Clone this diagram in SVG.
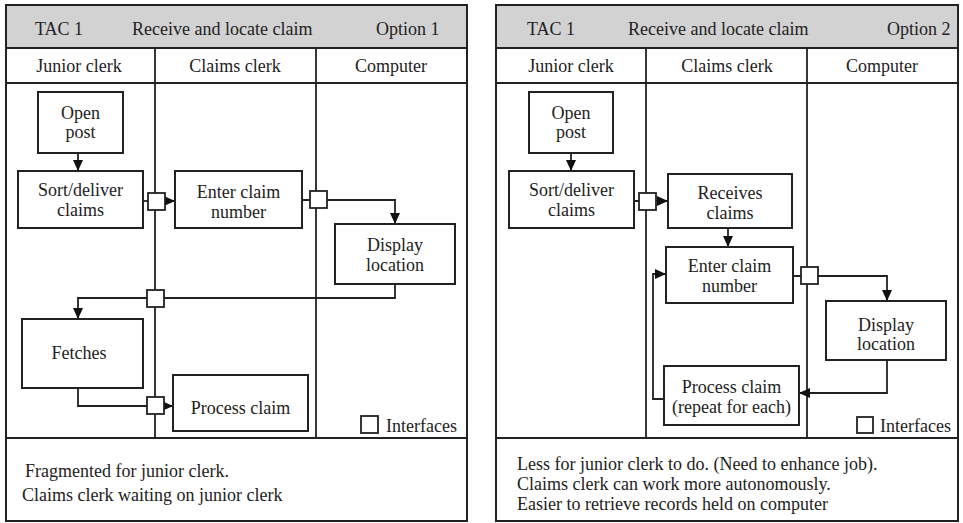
<svg xmlns="http://www.w3.org/2000/svg" width="963" height="523" viewBox="0 0 963 523">
<defs>
<style>
.frame{fill:none;stroke:#222;stroke-width:2}
.hdr{fill:#d2d2d2;stroke:#222;stroke-width:2}
.lane{stroke:#222;stroke-width:1.8;fill:none}
.node{fill:#fff;stroke:#222;stroke-width:2}
.ifc{fill:#fff;stroke:#222;stroke-width:1.8}
.con{fill:none;stroke:#222;stroke-width:1.8}
text{font-family:'Liberation Serif',serif;font-size:18px;fill:#222}
.c{text-anchor:middle}
</style>
<marker id="ah" markerUnits="userSpaceOnUse" markerWidth="12" markerHeight="12" viewBox="0 0 12 12" refX="11" refY="6" orient="auto">
<path d="M0,1 L11,6 L0,11 Z" fill="#111"/>
</marker>
</defs>
<rect width="963" height="523" fill="#fff"/>

<!-- LEFT PANEL -->
<g id="panel1">
<rect class="hdr" x="6" y="5" width="461" height="43"/>
<rect class="frame" x="6" y="5" width="461" height="516"/>
<line class="lane" x1="6" y1="83" x2="467" y2="83"/>
<line class="lane" x1="6" y1="438" x2="467" y2="438"/>
<line class="lane" x1="155" y1="48" x2="155" y2="438"/>
<line class="lane" x1="316" y1="48" x2="316" y2="438"/>
<text x="35" y="35">TAC 1</text>
<text x="132" y="35">Receive and locate claim</text>
<text x="376" y="35">Option 1</text>
<text class="c" x="79" y="72">Junior clerk</text>
<text class="c" x="235" y="72">Claims clerk</text>
<text class="c" x="391" y="72">Computer</text>
<text x="25" y="477">Fragmented for junior clerk.</text>
<text x="22" y="501">Claims clerk waiting on junior clerk</text>
</g>

<g id="connectors1">
<line class="con" x1="78" y1="153" x2="78" y2="171" marker-end="url(#ah)"/>
<line class="con" x1="143" y1="201" x2="175" y2="201" marker-end="url(#ah)"/>
<polyline class="con" points="302,200 395,200 395,224" marker-end="url(#ah)"/>
<polyline class="con" points="395,284 395,298 78,298 78,319" marker-end="url(#ah)"/>
<polyline class="con" points="78,388 78,406 173,406" marker-end="url(#ah)"/>
<rect class="ifc" x="148" y="193" width="17" height="17"/>
<rect class="ifc" x="310" y="191" width="17" height="17"/>
<rect class="ifc" x="147" y="290" width="17" height="17"/>
<rect class="ifc" x="147" y="397" width="17" height="17"/>
</g>

<g id="open-post-1"><rect class="node" x="38" y="92" width="85" height="61"/><text class="c" x="80.5" y="119">Open</text><text class="c" x="80.5" y="138">post</text></g>
<g id="sort-deliver-1"><rect class="node" x="18" y="171" width="125" height="57"/><text class="c" x="80.5" y="196">Sort/deliver</text><text class="c" x="80.5" y="216">claims</text></g>
<g id="enter-claim-1"><rect class="node" x="175" y="171" width="127" height="57"/><text class="c" x="238.5" y="198">Enter claim</text><text class="c" x="238.5" y="218">number</text></g>
<g id="display-location-1"><rect class="node" x="335" y="224" width="120" height="60"/><text class="c" x="395" y="251">Display</text><text class="c" x="395" y="271">location</text></g>
<g id="fetches-1"><rect class="node" x="22" y="319" width="121" height="69"/><text class="c" x="79" y="359">Fetches</text></g>
<g id="process-claim-1"><rect class="node" x="173" y="375" width="135" height="56"/><text class="c" x="240.5" y="414">Process claim</text></g>
<g id="legend-1"><rect class="ifc" x="361" y="416" width="17" height="17"/><text x="386" y="432">Interfaces</text></g>

<!-- RIGHT PANEL -->
<g id="panel2">
<rect class="hdr" x="496" y="5" width="462" height="43"/>
<rect class="frame" x="496" y="5" width="462" height="516"/>
<line class="lane" x1="496" y1="83" x2="958" y2="83"/>
<line class="lane" x1="496" y1="438" x2="958" y2="438"/>
<line class="lane" x1="646" y1="48" x2="646" y2="438"/>
<line class="lane" x1="807" y1="48" x2="807" y2="438"/>
<text x="527" y="35">TAC 1</text>
<text x="628" y="35">Receive and locate claim</text>
<text x="887" y="35">Option 2</text>
<text class="c" x="571" y="72">Junior clerk</text>
<text class="c" x="727" y="72">Claims clerk</text>
<text class="c" x="882" y="72">Computer</text>
<text x="517" y="470">Less for junior clerk to do. (Need to enhance job).</text>
<text x="517" y="490">Claims clerk can work more autonomously.</text>
<text x="517" y="510">Easier to retrieve records held on computer</text>
</g>

<g id="connectors2">
<line class="con" x1="571" y1="153" x2="571" y2="171" marker-end="url(#ah)"/>
<line class="con" x1="634" y1="201" x2="668" y2="201" marker-end="url(#ah)"/>
<line class="con" x1="728" y1="228" x2="728" y2="247" marker-end="url(#ah)"/>
<polyline class="con" points="793,276 887,276 887,301" marker-end="url(#ah)"/>
<polyline class="con" points="887,360 887,393 799,393" marker-end="url(#ah)"/>
<polyline class="con" points="664,399 653,399 653,274 666,274" marker-end="url(#ah)"/>
<rect class="ifc" x="639" y="193" width="17" height="17"/>
<rect class="ifc" x="801" y="267" width="17" height="17"/>
</g>

<g id="open-post-2"><rect class="node" x="529" y="92" width="84" height="61"/><text class="c" x="571" y="119">Open</text><text class="c" x="571" y="138">post</text></g>
<g id="sort-deliver-2"><rect class="node" x="509" y="171" width="125" height="57"/><text class="c" x="571.5" y="196">Sort/deliver</text><text class="c" x="571.5" y="216">claims</text></g>
<g id="receives-claims-2"><rect class="node" x="668" y="174" width="124" height="54"/><text class="c" x="730" y="199">Receives</text><text class="c" x="730" y="219">claims</text></g>
<g id="enter-claim-2"><rect class="node" x="666" y="247" width="127" height="56"/><text class="c" x="729.5" y="272">Enter claim</text><text class="c" x="729.5" y="292">number</text></g>
<g id="display-location-2"><rect class="node" x="826" y="301" width="120" height="59"/><text class="c" x="886" y="331">Display</text><text class="c" x="886" y="350">location</text></g>
<g id="process-claim-2"><rect class="node" x="664" y="366" width="135" height="59"/><text class="c" x="731.5" y="393">Process claim</text><text class="c" x="731.5" y="413">(repeat for each)</text></g>
<g id="legend-2"><rect class="ifc" x="857" y="417" width="16" height="16"/><text x="880" y="432">Interfaces</text></g>
</svg>
